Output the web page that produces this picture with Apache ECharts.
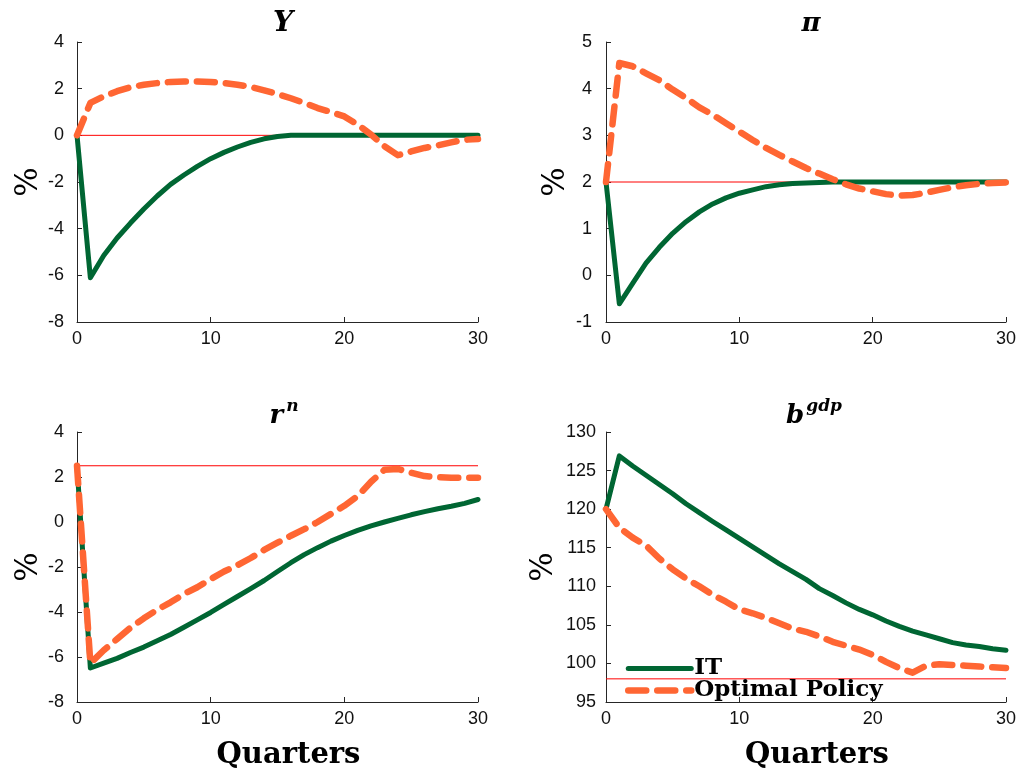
<!DOCTYPE html>
<html>
<head>
<meta charset="utf-8">
<script src="https://cdn.jsdelivr.net/npm/echarts@6/dist/echarts.min.js"></script>
<style>
html,body{margin:0;padding:0;background:#fff;}
#c{width:1019px;height:771px;}
</style>
</head>
<body>
<div id="c"></div>
<script>
// ---- data ----
var quarters = [0,1,2,3,4,5,6,7,8,9,10,11,12,13,14,15,16,17,18,19,20,21,22,23,24,25,26,27,28,29,30];

var Y_IT  = [0,-6.1,-5.15,-4.4,-3.76,-3.16,-2.6,-2.1,-1.7,-1.33,-1.0,-0.73,-0.5,-0.3,-0.15,-0.05,0,0,0,0,0,0,0,0,0,0,0,0,0,0,0];
var Y_OPT = [0,1.39,1.67,1.89,2.06,2.17,2.24,2.29,2.31,2.31,2.29,2.24,2.17,2.07,1.93,1.77,1.59,1.39,1.17,1.0,0.81,0.46,0.03,-0.47,-0.85,-0.69,-0.54,-0.43,-0.3,-0.19,-0.16];

var PI_IT  = [2,-0.61,-0.17,0.26,0.6,0.9,1.15,1.36,1.53,1.66,1.76,1.83,1.9,1.94,1.97,1.98,1.99,2,2,2,2,2,2,2,2,2,2,2,2,2,2];
var PI_OPT = [2.0,4.55,4.48,4.33,4.18,3.98,3.8,3.6,3.44,3.26,3.08,2.9,2.73,2.58,2.44,2.3,2.18,2.06,1.95,1.86,1.8,1.74,1.71,1.72,1.77,1.83,1.89,1.93,1.96,1.98,1.99];

var R_IT  = [2.5,-6.49,-6.27,-6.06,-5.8,-5.56,-5.28,-5.0,-4.68,-4.35,-4.02,-3.66,-3.31,-2.96,-2.6,-2.2,-1.81,-1.45,-1.14,-0.85,-0.6,-0.37,-0.17,0.0,0.16,0.32,0.46,0.59,0.7,0.83,1.0];
var R_OPT = [2.5,-6.28,-5.7,-5.2,-4.7,-4.28,-3.9,-3.57,-3.2,-2.9,-2.54,-2.2,-1.92,-1.6,-1.24,-0.92,-0.61,-0.32,0.0,0.36,0.72,1.15,1.79,2.32,2.36,2.19,2.04,1.99,1.97,1.97,1.97];

var B_IT  = [120,126.9,125.6,124.4,123.2,122.0,120.7,119.55,118.4,117.3,116.2,115.1,114.0,112.9,111.9,110.9,109.7,108.8,107.85,107.0,106.3,105.5,104.8,104.2,103.7,103.2,102.7,102.4,102.2,101.9,101.7];
var B_OPT = [120,117.6,116.3,115.3,113.6,112.2,111.0,110.0,108.9,108.0,107.0,106.5,105.9,105.2,104.5,104.1,103.5,102.8,102.3,101.8,101.1,100.2,99.4,98.8,99.7,99.9,99.8,99.7,99.6,99.5,99.4];

// reference (steady-state) levels
var refLevels = [0, 2, 2.5, 98];
var yMins = [-8, -1, -8, 95];
var yMaxs = [4, 5, 4, 130];
var yIntervals = [2, 1, 2, 5];
var xTicks = [0, 10, 20, 30];
var seriesNames = ['IT', 'Optimal Policy'];

// ---- chart ----
var GREEN = '#006633', ORANGE = '#FF6633', RED = '#FF0000', AX = '#262626';
var GREEN_W = 5, ORANGE_W = 6.5, DASH = [18, 11];
var panels = [
  {left:77, top:42, it:Y_IT, opt:Y_OPT, xname:'', ygap:33, lm:13},
  {left:606, top:42, it:PI_IT, opt:PI_OPT, xname:'', ygap:35, lm:14},
  {left:77, top:432, it:R_IT, opt:R_OPT, xname:'Quarters', ygap:33, lm:13},
  {left:606, top:432, it:B_IT, opt:B_OPT, xname:'Quarters', ygap:47, lm:10}
];
function pairs(arr){ return quarters.map(function(q,i){ return [q, arr[i]]; }); }

var grids=[], xAxes=[], yAxes=[], series=[];
panels.forEach(function(p, k){
  grids.push({left:p.left, top:p.top, width:401, height:280});
  xAxes.push({
    type:'value', gridIndex:k, min:xTicks[0], max:xTicks[xTicks.length-1], interval:10,
    axisLine:{onZero:false, lineStyle:{color:AX, width:1}},
    axisTick:{inside:true, length:5, lineStyle:{color:AX}},
    axisLabel:{color:'#111', fontSize:18, fontFamily:'Liberation Sans', margin:8},
    splitLine:{show:false},
    name:p.xname, nameLocation:'middle', nameGap:39,
    nameTextStyle:{fontFamily:'DejaVu Serif', fontWeight:'bold', fontSize:29, color:'#000', padding:[0,0,0,22]}
  });
  yAxes.push({
    type:'value', gridIndex:k, min:yMins[k], max:yMaxs[k], interval:yIntervals[k],
    axisLine:{show:true, onZero:false, lineStyle:{color:AX, width:1}},
    axisTick:{show:true, inside:true, length:5, lineStyle:{color:AX}},
    axisLabel:{color:'#111', fontSize:18, fontFamily:'Liberation Sans', margin:p.lm},
    splitLine:{show:false},
    name:'%', nameLocation:'middle', nameGap:p.ygap, nameRotate:90,
    nameTextStyle:{fontFamily:'DejaVu Serif', fontSize:31, color:'#000'}
  });
  series.push({
    name:'ref'+k, type:'line', xAxisIndex:k, yAxisIndex:k, symbol:'none', silent:true, z:1,
    data:[[xTicks[0], refLevels[k]], [xTicks[xTicks.length-1], refLevels[k]]],
    lineStyle:{color:RED, width:1}
  });
  series.push({
    name:seriesNames[0], type:'line', xAxisIndex:k, yAxisIndex:k, symbol:'none', z:2,
    data:pairs(p.it), color:GREEN,
    lineStyle:{color:GREEN, width:GREEN_W, cap:'round', join:'round'}
  });
  series.push({
    name:seriesNames[1], type:'line', xAxisIndex:k, yAxisIndex:k, symbol:'none', z:3,
    data:pairs(p.opt), color:ORANGE,
    lineStyle:{color:ORANGE, width:ORANGE_W, type:DASH, cap:'round', join:'round'}
  });
});

var titleBase = {fontFamily:'DejaVu Serif', fontWeight:'bold', color:'#000'};
var option = {
  animation:false,
  backgroundColor:'#fff',
  title:[
    {text:'Y', left:278, top:5, textAlign:'center', textStyle:Object.assign({fontSize:28, fontStyle:'italic'}, titleBase)},
    {text:'π', left:806, top:6, textAlign:'center', textStyle:Object.assign({fontSize:26, fontStyle:'italic'}, titleBase)},
    {text:'{b|r}{s|n}', left:279, top:393, textAlign:'center',
      textStyle:{rich:{
        b:Object.assign({fontSize:26, fontStyle:'italic', verticalAlign:'bottom'}, titleBase),
        s:Object.assign({fontSize:17, fontStyle:'italic', verticalAlign:'top', padding:[0,0,14,3]}, titleBase)
      }}},
    {text:'{b|b}{s|gdp}', left:809, top:393, textAlign:'center',
      textStyle:{rich:{
        b:Object.assign({fontSize:26, fontStyle:'italic', verticalAlign:'bottom'}, titleBase),
        s:Object.assign({fontSize:17, fontStyle:'italic', verticalAlign:'top', padding:[0,0,14,2]}, titleBase)
      }}}
  ],
  legend:{
    data:[
      {name:seriesNames[0], lineStyle:{width:GREEN_W, opacity:1}},
      {name:seriesNames[1], lineStyle:{width:ORANGE_W, opacity:1}}
    ],
    orient:'vertical', left:625, top:657,
    itemWidth:63, itemHeight:14, itemGap:-1, padding:0,
    itemStyle:{opacity:0},
    textStyle:{fontFamily:'DejaVu Serif', fontWeight:'bold', fontSize:23, color:'#000', padding:[0,0,0,-2]},
    selectedMode:false
  },
  grid:grids, xAxis:xAxes, yAxis:yAxes, series:series
};
var chart = echarts.init(document.getElementById('c'), null, {renderer:'canvas'});
chart.setOption(option);
</script>
</body>
</html>
